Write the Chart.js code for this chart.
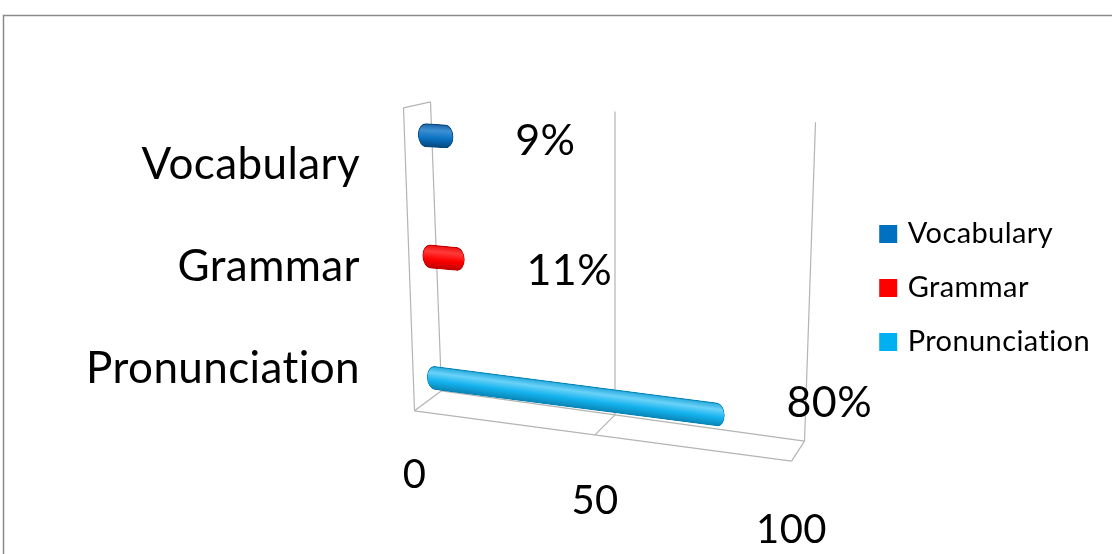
<!DOCTYPE html>
<html>
<head>
<meta charset="utf-8">
<script src="https://cdn.jsdelivr.net/npm/chart.js@4/dist/chart.umd.min.js"></script>
<style>
  html, body { margin: 0; padding: 0; background: #ffffff; }
  canvas { display: block; }
</style>
</head>
<body>
<canvas id="skills" width="1112" height="554"></canvas>
<script>
// ---- data -------------------------------------------------------------
const categories   = ['Vocabulary', 'Grammar', 'Pronunciation'];
const seriesNames  = ['Vocabulary', 'Grammar', 'Pronunciation'];
const seriesValues = [9, 11, 80];
const seriesColors = ['#0070C0', '#FF0000', '#00B0F0'];
const axisTicks    = [0, 50, 100];

// cylinder shading per series: top edge, highlight, body, lower edge
const shades = [
  ['#1b63a6', '#3d8fd3', '#0a72c2', '#06477c'],
  ['#ee1010', '#ff3a3a', '#ff0000', '#c00000'],
  ['#22a8dc', '#6ad2f8', '#14b3ef', '#0985b6']
];

const FONT = 'Lato';
const TRACKING = '0.4px';
const BAR_T = 18.5;

// ---- perspective view of the plot box ----------------------------------
const VIEW = {
  cx: 613,                     // screen x of the middle of the value range
  topY: 115, floorY: 426,      // wall top / floor level (mid depth)
  spanTop: 392, spanFloor: 370,
  slopeTop: 0.052, slopeFloor: 0.136,
  bulge: 8,
  dx0: 13.5, dx1: 6.5,         // half depth of the box, horizontal
  dyTop: 3, dyFloor: 10,       // half depth of the box, vertical
  rowTop: 146.5, rowBottom: 401
};

function level(ys) {
  const t = (ys - VIEW.topY) / (VIEW.floorY - VIEW.topY);
  return {
    t: t,
    span: VIEW.spanTop + (VIEW.spanFloor - VIEW.spanTop) * t,
    k: VIEW.slopeTop + (VIEW.slopeFloor - VIEW.slopeTop) * t,
    dy: VIEW.dyTop + (VIEW.dyFloor - VIEW.dyTop) * t
  };
}

// point on the box: f = fraction along the value axis, ys = height level, depth -1 back .. +1 front
function boxPoint(f, ys, depth) {
  const L = level(ys);
  const X = VIEW.cx + L.span * (f - 0.5) - VIEW.bulge * 4 * f * (1 - f);
  const Y = ys + L.k * (X - VIEW.cx);
  const dx = VIEW.dx0 + (VIEW.dx1 - VIEW.dx0) * f;
  return { x: X - depth * dx, y: Y + depth * L.dy };
}

// affine map of one bar row (raw chart pixels -> screen)
function rowTransform(chart, y0) {
  const area = chart.chartArea;
  const ys = chart.scales.y;
  const p0 = ys.getPixelForValue(0);
  const p2 = ys.getPixelForValue(categories.length - 1);
  const a = (VIEW.rowBottom - VIEW.rowTop) / (p2 - p0);
  const Ym = VIEW.rowTop + a * (y0 - p0);
  const L = level(Ym);
  const g = L.span / area.width;
  const e = VIEW.cx - L.span / 2 - g * area.left;
  return { a: g, b: L.k * g, c: 0, d: a, e: e, f: Ym - a * y0 + L.k * (e - VIEW.cx), Ym: Ym, t: L.t };
}

function cylinderFill(i) {
  return (c) => {
    const chart = c.chart;
    if (c.type !== 'data' || !chart.chartArea || !chart.scales.y) return seriesColors[i];
    const yc = chart.scales.y.getPixelForValue(c.dataIndex);
    const h = BAR_T / 2;
    const grad = chart.ctx.createLinearGradient(0, yc - h, 0, yc + h);
    grad.addColorStop(0, shades[i][0]);
    grad.addColorStop(0.28, shades[i][1]);
    grad.addColorStop(0.62, shades[i][2]);
    grad.addColorStop(1, shades[i][3]);
    return grad;
  };
}

const box3d = {
  id: 'box3d',
  beforeLayout(chart) {
    chart.ctx.letterSpacing = TRACKING;
  },
  beforeDraw(chart) {
    const ctx = chart.ctx;
    const xs = chart.scales.x;
    ctx.letterSpacing = TRACKING;
    ctx.save();
    // chart border
    ctx.strokeStyle = '#8a8a8a';
    ctx.lineWidth = 1.5;
    ctx.strokeRect(3.5, 15.5, chart.width + 20, chart.height + 20);

    ctx.strokeStyle = '#b4b4b4';
    ctx.lineWidth = 1.2;
    const line = (p, q) => { ctx.beginPath(); ctx.moveTo(p.x, p.y); ctx.lineTo(q.x, q.y); ctx.stroke(); };
    const frac = (v) => (xs.getPixelForValue(v) - xs.left) / xs.width;
    const T = VIEW.topY, F = VIEW.floorY;

    // side wall at the start of the value axis
    const f0 = frac(xs.min);
    line(boxPoint(f0, T, 1), boxPoint(f0, T, -1));
    line(boxPoint(f0, T, 1), boxPoint(f0, F, 1));
    // floor edges
    const f1 = frac(xs.max);
    line(boxPoint(f0, F, 1), boxPoint(f1, F, 1));
    line(boxPoint(f0, F, -1), boxPoint(f1, F, -1));
    // gridlines on the back wall and across the floor
    xs.ticks.forEach(t => {
      const f = frac(t.value);
      line(boxPoint(f, T, -1), boxPoint(f, F, -1));
      line(boxPoint(f, F, -1), boxPoint(f, F, 1));
    });
    ctx.restore();
  },
  beforeDatasetsDraw(chart) {
    const ctx = chart.ctx;
    chart.data.datasets.forEach((ds, i) => {
      const meta = chart.getDatasetMeta(i);
      if (meta.hidden) return;
      meta.data.forEach((el, j) => {
        if (ds.data[j] == null) return;
        const m = rowTransform(chart, el.y);
        ctx.save();
        ctx.transform(m.a, m.b, m.c, m.d, m.e, m.f);
        el.draw(ctx, chart.chartArea);
        ctx.restore();
      });
    });
    return false;
  },
  afterDraw(chart) {
    const ctx = chart.ctx;
    const xs = chart.scales.x;
    ctx.save();
    ctx.fillStyle = '#000000';
    // value labels beside the bar ends
    ctx.font = '43px ' + FONT;
    ctx.textAlign = 'left';
    ctx.textBaseline = 'middle';
    chart.data.datasets.forEach((ds, i) => {
      const meta = chart.getDatasetMeta(i);
      meta.data.forEach((el, j) => {
        const v = ds.data[j];
        if (v == null) return;
        const m = rowTransform(chart, el.y);
        const endX = m.a * el.x + m.e;
        ctx.fillText(v + '%', endX + 62, m.Ym - 5 + 9 * m.t * m.t);
      });
    });
    // value axis labels along the front edge of the floor
    ctx.font = '40px ' + FONT;
    ctx.textAlign = 'center';
    xs.ticks.forEach(t => {
      const f = (xs.getPixelForValue(t.value) - xs.left) / xs.width;
      const p = boxPoint(f, VIEW.floorY, 1);
      ctx.fillText(String(t.value), p.x, p.y + 64 + 5 * f);
    });
    ctx.restore();
  }
};

new Chart(document.getElementById('skills'), {
  type: 'bar',
  data: {
    labels: categories,
    datasets: seriesNames.map((name, i) => ({
      label: name,
      data: categories.map((_, j) => (j === i ? seriesValues[i] : null)),
      backgroundColor: cylinderFill(i),
      borderColor: shades[i][3],
      borderWidth: 1,
      borderSkipped: false,
      borderRadius: BAR_T / 2,
      barThickness: BAR_T,
      skipNull: true
    }))
  },
  options: {
    indexAxis: 'y',
    responsive: false,
    animation: false,
    layout: { padding: { top: 114, bottom: 92, left: 0, right: 12 } },
    scales: {
      x: {
        min: axisTicks[0],
        max: axisTicks[axisTicks.length - 1],
        afterBuildTicks: (s) => { s.ticks = axisTicks.map(v => ({ value: v })); },
        ticks: { display: false },
        grid: { display: false, drawTicks: false },
        border: { display: false },
        afterFit: (s) => { s.height = 42; }
      },
      y: {
        ticks: { color: '#000000', padding: 67, font: { family: FONT, size: 44 } },
        grid: { display: false, drawTicks: false },
        border: { display: false },
        afterFit: (s) => { s.width = 427; }
      }
    },
    plugins: {
      tooltip: { enabled: false },
      legend: {
        position: 'right',
        align: 'center',
        labels: {
          usePointStyle: true,
          pointStyle: 'rect',
          boxWidth: 10,
          boxHeight: 18,
          padding: 25,
          color: '#000000',
          font: { family: FONT, size: 29 },
          generateLabels: (chart) => chart.data.datasets.map((ds, i) => ({
            text: ds.label,
            fillStyle: seriesColors[i],
            strokeStyle: seriesColors[i],
            lineWidth: 0,
            pointStyle: 'rect',
            hidden: !chart.isDatasetVisible(i),
            datasetIndex: i
          }))
        }
      }
    }
  },
  plugins: [box3d]
});
</script>
</body>
</html>
